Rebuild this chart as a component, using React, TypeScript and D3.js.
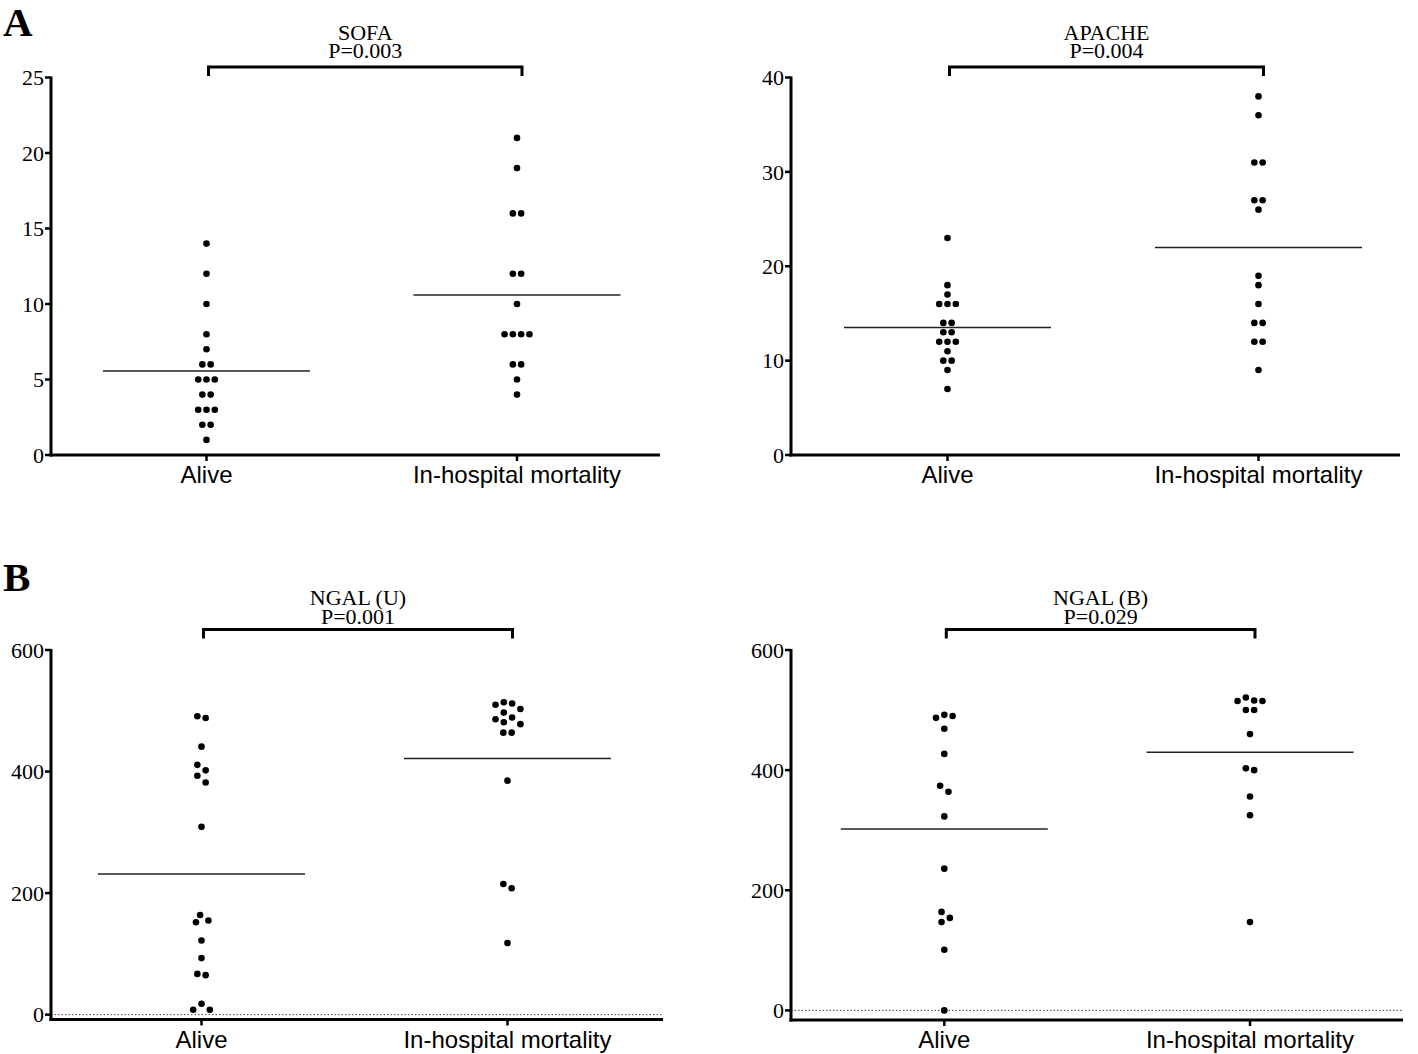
import React from "react";
import * as d3 from "d3";

const groups = ["Alive", "In-hospital mortality"];

const sofaAlive = [14, 12, 10, 8, 7, 6, 6, 5, 5, 5, 4, 4, 3, 3, 3, 2, 2, 1];
const sofaMort = [21, 19, 16, 16, 12, 12, 10, 8, 8, 8, 8, 6, 6, 5, 4];
const apacheAlive = [23, 18, 17, 16, 16, 16, 14, 14, 13, 13, 12, 12, 12, 11, 10, 10, 9, 7];
const apacheMort = [38, 36, 31, 31, 27, 27, 26, 19, 18, 16, 14, 14, 12, 12, 9];
const ngalUAlive = [491, 488, 441, 411, 402, 393, 382, 309, 164, 155, 152, 122, 93, 67, 65, 18, 8, 8];
const ngalUMort = [514, 512, 510, 503, 497, 489, 486, 481, 478, 464, 464, 385, 215, 208, 118];
const ngalBAlive = [492, 490, 487, 469, 427, 374, 364, 323, 236, 164, 154, 147, 101, 0];
const ngalBMort = [521, 516, 515, 515, 500, 500, 460, 403, 400, 356, 325, 147];

const sofaTicks = [0, 5, 10, 15, 20, 25];
const apacheTicks = [0, 10, 20, 30, 40];
const ngalTicks = [0, 200, 400, 600];

const titles = ["SOFA", "APACHE", "NGAL (U)", "NGAL (B)"];
const pValues = ["P=0.003", "P=0.004", "P=0.001", "P=0.029"];
const panelLetters = ["A", "B"];

type Panel = {
  title: string;
  p: string;
  series: number[][];
  ticks: number[];
  domain: [number, number];
  axisX: number;
  xEnd: number;
  yTop: number;
  yBottom: number;
  cx: [number, number];
  bracketY: number;
  titleY: [number, number];
  labelY: number;
  zeroLine: boolean;
};

const panels: Panel[] = [
  {
    title: titles[0], p: pValues[0], series: [sofaAlive, sofaMort], ticks: sofaTicks,
    domain: [0, 25], axisX: 51, xEnd: 660, yTop: 77.5, yBottom: 455,
    cx: [206.5, 517], bracketY: 67, titleY: [39.5, 58], labelY: 482.5, zeroLine: false,
  },
  {
    title: titles[1], p: pValues[1], series: [apacheAlive, apacheMort], ticks: apacheTicks,
    domain: [0, 40], axisX: 791, xEnd: 1400, yTop: 77.5, yBottom: 455,
    cx: [947.5, 1258.5], bracketY: 67, titleY: [39.5, 58], labelY: 482.5, zeroLine: false,
  },
  {
    title: titles[2], p: pValues[2], series: [ngalUAlive, ngalUMort], ticks: ngalTicks,
    domain: [-8, 600], axisX: 51, xEnd: 663, yTop: 650, yBottom: 1019.5,
    cx: [201.5, 507.5], bracketY: 629.5, titleY: [605, 623.5], labelY: 1047.5, zeroLine: true,
  },
  {
    title: titles[3], p: pValues[3], series: [ngalBAlive, ngalBMort], ticks: ngalTicks,
    domain: [-16, 600], axisX: 791, xEnd: 1403, yTop: 650, yBottom: 1020,
    cx: [944.3, 1250], bracketY: 629.5, titleY: [605, 623.5], labelY: 1047.5, zeroLine: true,
  },
];

const D = 8.3;
const STEP = 4.15;

function swarm(values: number[], y: (v: number) => number): number[] {
  const idx = values.map((_, i) => i).sort((a, b) => values[b] - values[a]);
  const placed: { py: number; dx: number; i: number }[] = [];
  const offsets = new Array(values.length).fill(0);
  for (const i of idx) {
    const py = y(values[i]);
    let chosen = 0;
    for (let k = 0; k < 40; k++) {
      const cands = k === 0 ? [0] : [k * STEP, -k * STEP];
      let found = false;
      for (const c of cands) {
        const ok = placed.every((p) => {
          const dy = p.py - py;
          const dx = p.dx - c;
          return dx * dx + dy * dy >= D * D - 0.01;
        });
        if (ok) {
          chosen = c;
          found = true;
          break;
        }
      }
      if (found) break;
    }
    placed.push({ py, dx: chosen, i });
    offsets[i] = chosen;
  }
  let cluster: typeof placed = [];
  const flush = () => {
    if (!cluster.length) return;
    const m = d3.mean(cluster, (c) => c.dx) as number;
    cluster.forEach((c) => (offsets[c.i] = c.dx - m));
    cluster = [];
  };
  placed.forEach((p, j) => {
    if (j > 0 && p.py - placed[j - 1].py >= D) flush();
    cluster.push(p);
  });
  flush();
  return offsets;
}

const serif = "'Liberation Serif', 'Times New Roman', serif";
const sans = "'Liberation Sans', Arial, sans-serif";

function PanelView({ cfg }: { cfg: Panel }) {
  const y = d3.scaleLinear().domain(cfg.domain).range([cfg.yBottom, cfg.yTop]);
  const x = d3.scalePoint<string>().domain(groups).range(cfg.cx);
  const x0 = x(groups[0]) as number;
  const x1 = x(groups[1]) as number;
  const meanHalf = 103.5;
  return (
    <g>
      {cfg.zeroLine && (
        <line x1={cfg.axisX} x2={cfg.xEnd} y1={y(0)} y2={y(0)} stroke="#444" strokeWidth={1} strokeDasharray="1.5,2" />
      )}
      <line x1={cfg.axisX} x2={cfg.axisX} y1={cfg.yTop - 1} y2={cfg.yBottom + 1.5} stroke="#000" strokeWidth={3} />
      {cfg.ticks.map((t) => (
        <g key={t}>
          <line x1={cfg.axisX - 6} x2={cfg.axisX} y1={y(t)} y2={y(t)} stroke="#000" strokeWidth={2.5} />
          <text x={cfg.axisX - 7} y={y(t)} dy="0.35em" textAnchor="end" fontFamily={serif} fontSize={22}>
            {t}
          </text>
        </g>
      ))}
      <line x1={cfg.axisX - 1.5} x2={cfg.xEnd} y1={cfg.yBottom} y2={cfg.yBottom} stroke="#000" strokeWidth={3} />
      {groups.map((g) => (
        <g key={g}>
          <line x1={x(g)} x2={x(g)} y1={cfg.yBottom} y2={cfg.yBottom + 6} stroke="#000" strokeWidth={2.5} />
          <text x={x(g)} y={cfg.labelY} textAnchor="middle" fontFamily={sans} fontSize={24}>
            {g}
          </text>
        </g>
      ))}
      {cfg.series.map((vals, si) => {
        const cx = x(groups[si]) as number;
        const offs = swarm(vals, y);
        const m = d3.mean(vals) as number;
        return (
          <g key={si}>
            <line x1={cx - meanHalf} x2={cx + meanHalf} y1={y(m)} y2={y(m)} stroke="#222" strokeWidth={1.5} />
            {vals.map((v, i) => (
              <circle key={i} cx={cx + offs[i]} cy={y(v)} r={3.3} fill="#000" />
            ))}
          </g>
        );
      })}
      <path
        d={`M${x0 + 2},${cfg.bracketY + 9}V${cfg.bracketY}H${x1 + 5}V${cfg.bracketY + 9}`}
        fill="none"
        stroke="#000"
        strokeWidth={3}
      />
      <text x={(x0 + x1) / 2 + 3.5} y={cfg.titleY[0]} textAnchor="middle" fontFamily={serif} fontSize={22}>
        {cfg.title}
      </text>
      <text x={(x0 + x1) / 2 + 3.5} y={cfg.titleY[1]} textAnchor="middle" fontFamily={serif} fontSize={22}>
        {cfg.p}
      </text>
    </g>
  );
}

export default function App() {
  return (
    <svg
      width={1418}
      height={1054}
      style={{ position: "absolute", left: 0, top: 0, background: "#fff" }}
      xmlns="http://www.w3.org/2000/svg"
    >
      <rect width={1418} height={1054} fill="#fff" />
      <text x={3} y={36} fontFamily={serif} fontWeight="bold" fontSize={41}>
        {panelLetters[0]}
      </text>
      <text x={3} y={591} fontFamily={serif} fontWeight="bold" fontSize={41}>
        {panelLetters[1]}
      </text>
      {panels.map((p, i) => (
        <PanelView key={i} cfg={p} />
      ))}
    </svg>
  );
}
